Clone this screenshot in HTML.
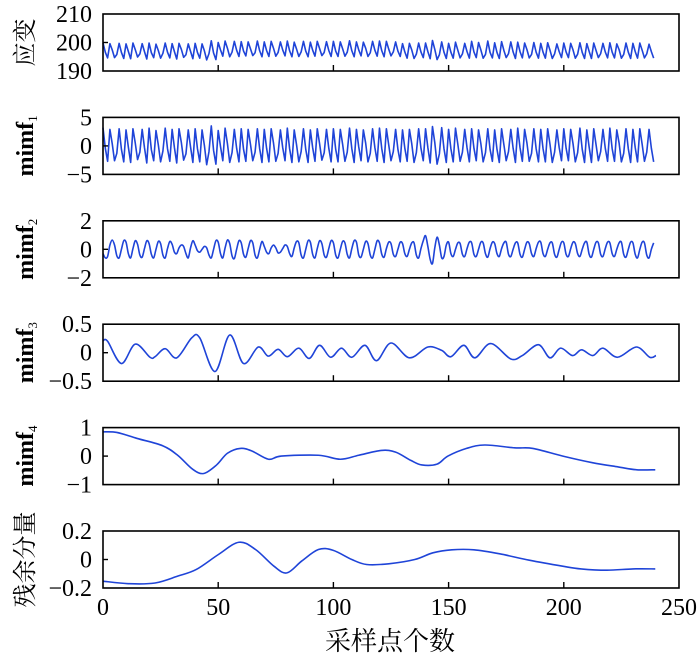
<!DOCTYPE html>
<html><head><meta charset="utf-8"><style>
html,body{margin:0;padding:0;background:#fff;}
svg{display:block;}
text{font-family:"Liberation Serif","Noto Serif CJK SC",serif;fill:#000;}
</style></head><body>
<svg id="chart" width="700" height="668" viewBox="0 0 700 668" xmlns="http://www.w3.org/2000/svg"></svg>
<script>
const xTicks=[0,50,100,150,200,250];
const strainValues=[
199.9,196.6,194.6,199.6,197.4,194.7,195.8,199.7,196.5,194.4,
199.5,196.9,194.3,199.8,197.5,194.9,196.0,199.6,196.8,194.2,
199.8,196.4,194.7,199.4,197.2,194.5,196.2,199.8,196.6,194.6,
199.6,196.8,194.2,199.7,197.6,194.8,195.7,199.5,196.9,194.3,
199.7,196.5,194.5,199.5,197.1,193.9,196.1,200.6,196.3,194.0,
200.0,197.4,195.2,200.5,198.0,195.0,196.6,200.4,197.3,195.1,
200.3,197.0,195.3,200.2,197.8,195.4,196.4,200.5,197.1,195.0,
200.2,197.2,195.1,200.4,198.0,195.2,196.5,200.2,197.4,195.3,
200.5,197.1,195.0,200.1,197.7,195.1,196.7,200.4,197.0,195.0,
200.1,197.3,195.2,200.4,197.9,195.4,196.5,200.3,197.2,195.1,
200.4,197.0,195.1,200.2,197.8,195.2,196.6,200.6,197.1,195.0,
200.2,197.4,195.3,200.1,198.0,195.1,196.4,200.4,197.3,195.2,
200.5,197.1,195.0,200.4,197.7,195.3,196.7,200.2,197.0,195.1,
199.6,196.7,194.5,199.7,197.4,194.4,195.9,199.8,196.7,194.7,
199.8,196.8,194.3,200.7,197.6,194.0,195.7,200.2,196.6,194.4,
199.7,196.6,194.5,200.1,197.3,194.6,196.0,199.7,196.8,194.5,
200.4,196.7,194.7,200.0,197.4,194.5,195.8,200.5,196.5,194.6,
199.9,196.5,194.4,200.3,197.2,194.7,196.1,200.2,196.7,194.4,
200.1,196.8,194.6,199.8,197.5,194.6,195.8,200.0,196.6,194.5,
199.7,196.6,194.5,199.9,197.3,194.4,196.0,199.5,196.8,194.7,
199.8,196.7,194.7,199.7,197.4,194.5,195.9,199.9,196.5,194.4,
199.6,196.9,194.4,199.8,197.2,194.7,196.1,199.7,196.7,194.6,
199.9,196.6,194.6,199.5,197.5,194.5,195.8,199.8,196.6,194.4,
199.7,196.8,194.5,199.8,197.3,194.6,196.0,199.4,196.8,194.5];
const mimf1Values=[
3.2,-0.4,-2.7,2.9,0.4,-2.6,-1.3,3.0,-0.6,-2.8,
2.8,-0.2,-2.9,3.0,0.5,-2.4,-1.1,2.9,-0.3,-3.0,
3.1,-0.7,-2.6,2.7,0.2,-2.8,-0.9,3.1,-0.5,-2.7,
2.9,-0.3,-3.0,3.0,0.6,-2.5,-1.4,2.8,-0.2,-2.9,
3.0,-0.5,-2.8,2.8,0.1,-3.3,-1.0,3.5,-0.8,-3.2,
2.7,-0.1,-2.6,3.1,0.4,-2.9,-1.2,2.9,-0.4,-2.8,
3.0,-0.6,-2.7,2.9,0.3,-2.6,-1.1,3.0,-0.5,-2.9,
2.9,-0.4,-2.8,3.0,0.5,-2.7,-1.3,2.8,-0.3,-2.6,
3.1,-0.5,-2.9,2.8,0.2,-2.8,-1.0,3.0,-0.6,-2.9,
2.8,-0.3,-2.7,3.0,0.4,-2.5,-1.2,2.9,-0.4,-2.8,
3.0,-0.6,-2.8,2.9,0.3,-2.7,-1.1,3.1,-0.5,-2.9,
2.9,-0.2,-2.6,2.8,0.5,-2.8,-1.3,3.0,-0.3,-2.7,
3.1,-0.5,-2.9,3.0,0.2,-2.6,-1.0,2.9,-0.6,-2.8,
2.8,-0.4,-2.7,2.9,0.4,-2.9,-1.2,3.0,-0.4,-2.6,
3.0,-0.3,-3.0,3.4,0.6,-3.2,-1.4,3.2,-0.5,-2.9,
2.9,-0.5,-2.8,3.1,0.3,-2.7,-1.1,2.9,-0.3,-2.8,
3.0,-0.4,-2.6,2.8,0.4,-2.8,-1.2,3.0,-0.6,-2.7,
2.8,-0.6,-2.9,3.0,0.2,-2.6,-1.0,2.9,-0.4,-2.9,
3.1,-0.3,-2.7,2.9,0.5,-2.7,-1.3,3.0,-0.5,-2.8,
2.9,-0.5,-2.8,3.0,0.3,-2.9,-1.1,2.8,-0.3,-2.6,
3.0,-0.4,-2.6,2.9,0.4,-2.8,-1.2,3.1,-0.6,-2.9,
2.8,-0.2,-2.9,3.0,0.2,-2.6,-1.0,2.9,-0.4,-2.7,
3.1,-0.5,-2.7,2.8,0.5,-2.8,-1.3,3.0,-0.5,-2.9,
2.9,-0.3,-2.8,3.0,0.3,-2.7,-1.1,2.9,-0.4,-2.8];
const mimf2Values=[
-0.3,-0.6,-0.5,0.3,0.65,0.3,-0.45,-0.6,0.0,0.6,
0.5,-0.3,-0.6,0.05,0.6,0.35,-0.4,-0.55,0.05,0.6,
0.4,-0.35,-0.6,0.0,0.55,0.4,-0.4,-0.6,0.05,0.55,
0.35,-0.2,-0.3,0.1,0.3,0.2,-0.3,-0.6,0.1,0.6,
0.3,-0.1,-0.2,0.0,0.2,0.1,-0.4,-0.6,0.0,0.6,
0.5,-0.3,-0.6,0.1,0.65,0.4,-0.45,-0.65,0.0,0.6,
0.45,-0.35,-0.55,0.05,0.6,0.45,-0.4,-0.6,0.0,0.55,
0.2,-0.2,-0.3,0.1,0.3,0.1,-0.25,-0.2,0.05,0.3,
0.2,-0.3,-0.5,0.1,0.55,0.45,-0.4,-0.6,0.0,0.6,
0.5,-0.35,-0.6,0.05,0.6,0.4,-0.4,-0.55,0.05,0.6,
0.45,-0.4,-0.6,0.0,0.55,0.45,-0.35,-0.6,0.05,0.6,
0.5,-0.4,-0.55,0.0,0.55,0.4,-0.4,-0.6,0.0,0.6,
0.45,-0.35,-0.55,0.05,0.5,0.4,-0.35,-0.5,0.0,0.5,
0.4,-0.3,-0.5,0.0,0.45,0.45,-0.4,-0.6,0.05,0.6,
0.95,0.2,-0.7,-1.0,0.1,0.85,0.3,-0.6,-0.5,0.3,
0.5,-0.3,-0.5,0.0,0.45,0.4,-0.35,-0.5,0.05,0.5,
0.45,-0.35,-0.5,0.0,0.5,0.45,-0.3,-0.55,0.05,0.5,
0.4,-0.3,-0.5,0.05,0.45,0.5,-0.35,-0.5,0.0,0.45,
0.45,-0.35,-0.55,0.0,0.5,0.4,-0.3,-0.5,0.05,0.5,
0.5,-0.3,-0.5,0.0,0.45,0.45,-0.35,-0.55,0.0,0.5,
0.45,-0.35,-0.5,0.05,0.5,0.4,-0.3,-0.5,0.0,0.45,
0.5,-0.35,-0.55,0.0,0.5,0.45,-0.35,-0.5,0.05,0.5,
0.45,-0.3,-0.5,0.0,0.45,0.5,-0.35,-0.55,0.0,0.5,
0.45,-0.35,-0.6,0.0,0.5,0.45,-0.4,-0.6,0.0,0.45];
const mimf3X=[0,2,8,14,20.4,22.6,27,32,38.5,42,48.6,55,61,67.4,71.7,76,80,85,89.5,94,98.8,103.5,108,113.7,118.7,125,133,141,147,151,156.6,161.4,168.3,177,182,189,194,198.6,203.8,207.7,212.6,217,223.3,231.5,237.3,240];
const mimf3Y=[0.21,0.2,-0.19,0.15,-0.08,-0.07,0.07,-0.09,0.26,0.26,-0.33,0.31,-0.19,0.1,-0.06,0.06,-0.07,0.08,-0.1,0.13,-0.08,0.08,-0.08,0.13,-0.14,0.17,-0.09,0.1,0.04,-0.07,0.13,-0.09,0.16,-0.11,-0.05,0.14,-0.09,0.08,-0.05,0.05,-0.05,0.08,-0.08,0.1,-0.08,-0.05];
const mimf4X=[0,6,14.8,26,32.4,38.9,43.7,49.3,54,59.6,64.6,71.8,77.4,93.5,103,111,120.8,127,133.6,138.4,145,149.7,157.8,165.7,178.6,186.6,199.6,212.4,223.6,231.7,239.7];
const mimf4Y=[0.85,0.83,0.62,0.36,0.03,-0.46,-0.61,-0.31,0.1,0.27,0.18,-0.11,0.0,0.03,-0.11,0.03,0.2,0.14,-0.15,-0.31,-0.28,0.0,0.27,0.39,0.29,0.27,0.0,-0.23,-0.38,-0.48,-0.48];
const residX=[0,11.5,22.6,32.4,40.5,50.1,59,66.2,74.2,79.8,86.3,93.5,99.8,108,114.4,124,135.3,143.2,151.4,161,172.2,185,199.5,207.5,218.7,230,239.7];
const residY=[-0.152,-0.17,-0.165,-0.117,-0.07,0.035,0.121,0.07,-0.047,-0.094,-0.01,0.07,0.065,0.0,-0.035,-0.03,0.0,0.047,0.068,0.068,0.04,-0.005,-0.047,-0.066,-0.075,-0.066,-0.066];

const NS='http://www.w3.org/2000/svg';
const svg=document.getElementById('chart');
const X0=103,X1=679,XMAX=250;
const sx=v=>X0+(X1-X0)*v/XMAX;
function mk(tag,attrs,parent){const e=document.createElementNS(NS,tag);for(const k in attrs)e.setAttribute(k,attrs[k]);(parent||svg).appendChild(e);return e;}
function idx(arr){return arr.map((_,i)=>i);}
const panels=[
 {name:'strain',xs:idx(strainValues),ys:strainValues,min:190,max:210,ticks:['210','200','190'],label:'应变',smooth:false},
 {name:'mimf1',xs:idx(mimf1Values),ys:mimf1Values,min:-5,max:5,ticks:['5','0','−5'],label:'mimf',sub:'1',smooth:false},
 {name:'mimf2',xs:idx(mimf2Values),ys:mimf2Values,min:-2,max:2,ticks:['2','0','−2'],label:'mimf',sub:'2',smooth:true},
 {name:'mimf3',xs:mimf3X,ys:mimf3Y,min:-0.5,max:0.5,ticks:['0.5','0','−0.5'],label:'mimf',sub:'3',smooth:true},
 {name:'mimf4',xs:mimf4X,ys:mimf4Y,min:-1,max:1,ticks:['1','0','−1'],label:'mimf',sub:'4',smooth:true},
 {name:'residual',xs:residX,ys:residY,min:-0.2,max:0.2,ticks:['0.2','0','−0.2'],label:'残余分量',smooth:true}
];
const TOP0=14,STEP=103.4,H=57;
panels.forEach((p,i)=>{
  const top=TOP0+i*STEP,bot=top+H;
  const g=mk('g',{});
  
  
  const sy=v=>bot-(v-p.min)/(p.max-p.min)*H;
  const pts=p.xs.map((x,k)=>[sx(x),sy(p.ys[k])]);
  let d='M'+pts[0][0].toFixed(2)+','+pts[0][1].toFixed(2);
  if(p.smooth){
    for(let k=0;k<pts.length-1;k++){
      const a=pts[k-1]||pts[k],b=pts[k],c=pts[k+1],e=pts[k+2]||c;
      const c1=[b[0]+(c[0]-a[0])/6,b[1]+(c[1]-a[1])/6],c2=[c[0]-(e[0]-b[0])/6,c[1]-(e[1]-b[1])/6];
      d+=' C'+c1.map(v=>v.toFixed(2))+' '+c2.map(v=>v.toFixed(2))+' '+c[0].toFixed(2)+','+c[1].toFixed(2);
    }
  } else pts.slice(1).forEach(q=>{d+=' L'+q[0].toFixed(2)+','+q[1].toFixed(2);});
  const line=mk('path',{d:d,fill:'none',stroke:'#1f44d8','stroke-width':1.6,'stroke-linejoin':'round'},g);
  
  
  const frame=mk('rect',{x:X0,y:top,width:X1-X0,height:H,fill:'none',stroke:'#000','stroke-width':1.6},g);
  
  
  xTicks.slice(1,-1).forEach(t=>{mk('line',{x1:sx(t),x2:sx(t),y1:bot,y2:bot-6,stroke:'#000','stroke-width':1.4},g);});
  const midY=(top+bot)/2;
  mk('line',{x1:X0,x2:X0+5,y1:midY,y2:midY,stroke:'#000','stroke-width':1.4},g);
  [top,midY,bot].forEach((yy,k)=>{
    const t=mk('text',{x:92,y:yy+8,'text-anchor':'end','font-size':24},g);
    t.textContent=p.ticks[k];
    
    
  });
  const lab=mk('text',{x:0,y:0,transform:'translate(33,'+midY+') rotate(-90)','text-anchor':'middle','font-size':24},g);
  
  
  if(p.sub){
    lab.setAttribute('font-weight','bold');
    lab.textContent=p.label;
    const s=mk('tspan',{'font-size':13,'font-weight':'normal',dy:4},lab);
    s.textContent=p.sub;
  } else lab.textContent=p.label;
  if(i===panels.length-1){
    xTicks.forEach(t=>{
      const tl=mk('text',{x:sx(t),y:bot+27,'text-anchor':'middle','font-size':24},g);
      tl.textContent=String(t);
      
      
    });
  }
});
const xt=mk('text',{x:390,y:650,'text-anchor':'middle','font-size':26});
xt.textContent='采样点个数';


</script>
</body></html>
